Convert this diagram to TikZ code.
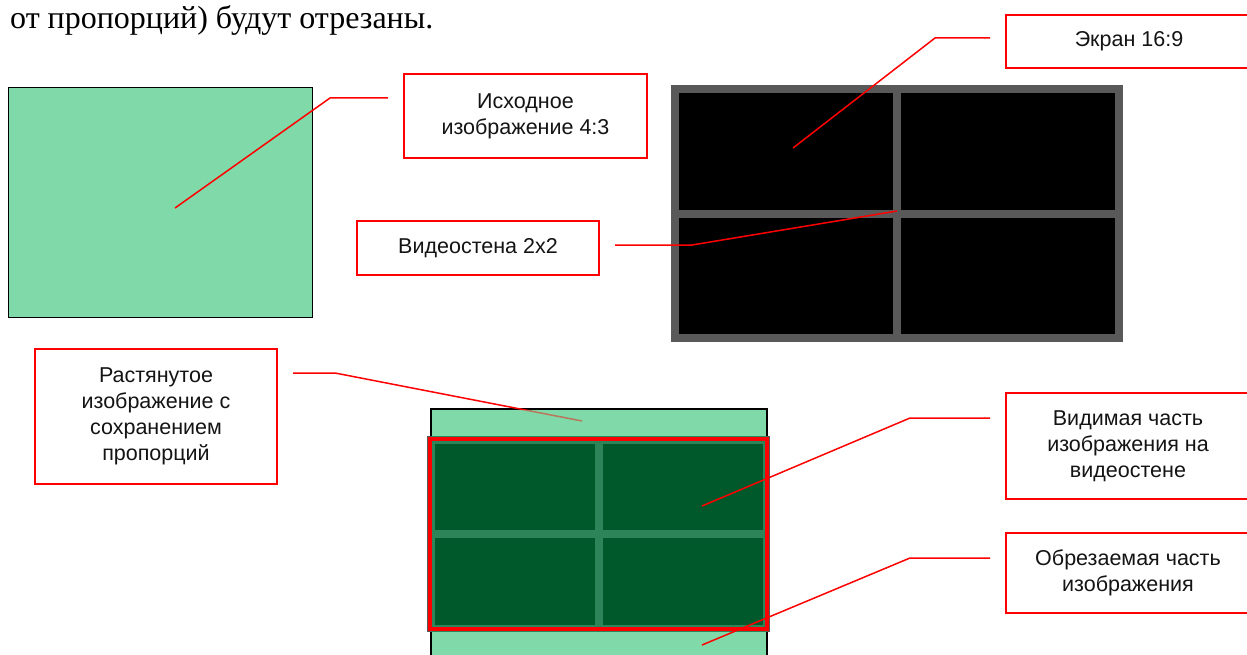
\documentclass[tikz,border=0pt]{standalone}
\usepackage{fontspec}
\setmainfont{Liberation Serif}
\newfontfamily\lsans{Liberation Sans}
\definecolor{lgreen}{RGB}{128,217,168}
\definecolor{dgreen}{RGB}{0,89,42}
\definecolor{mgreen}{RGB}{46,132,89}
\definecolor{wallgray}{RGB}{89,89,89}
\definecolor{lred}{RGB}{255,0,0}
\definecolor{txt}{RGB}{20,20,20}
\begin{document}
\begin{tikzpicture}[x=1pt,y=-1pt,
  lbl/.style={draw=lred,line width=2pt,fill=white,align=center,inner sep=0pt,
    font=\lsans\fontsize{21.5}{26}\selectfont,text=txt},
  leader/.style={draw=lred,line width=1.5pt},
  cell/.style={fill=black},
  gcell/.style={fill=dgreen}]
\useasboundingbox (0,0) rectangle (1247,655);
\fill[white] (0,0) rectangle (1247,655);

% top text
\node[anchor=base west,inner sep=0pt,font=\fontsize{32}{38}\selectfont] (toptext) at (10,28.5) {от пропорций) будут отрезаны.};

% source image 4:3
\path[fill=lgreen,draw=black,line width=1pt] (8,88) rectangle (312,317);
\coordinate (srcpt) at (175,208);

% video wall 16:9
\fill[wallgray] (671,85) rectangle (1123,342);
\fill[cell] (679,93) rectangle (893,210);
\fill[cell] (901,93) rectangle (1115,210);
\fill[cell] (679,218) rectangle (893,334);
\fill[cell] (901,218) rectangle (1115,334);
\coordinate (screenpt) at (793,148);
\coordinate (wallpt) at (897,211);

% stretched image
\path[fill=lgreen,draw=black,line width=1.2pt] (431,409) rectangle (767,670);
\coordinate (stretchpt) at (582,421);
\fill[wallgray] (427,436) rectangle (770,632);
\fill[mgreen] (431,436) rectangle (767,632);
\fill[gcell] (435,444) rectangle (595,530);
\fill[gcell] (603,444) rectangle (763,530);
\fill[gcell] (435,538) rectangle (595,625);
\fill[gcell] (603,538) rectangle (763,625);
\draw[lred,line width=3.2pt] (430,439) rectangle (767,629);
\coordinate (visiblept) at (702,506);
\coordinate (croppt) at (702,645);

% label boxes
\node[lbl,minimum width=243pt,minimum height=84pt] (lsrc) at (525.5,116) {Исходное\\изображение 4:3};
\node[lbl,minimum width=246pt,minimum height=53pt] (lscreen) at (1129,41.5) {Экран 16:9};
\node[lbl,minimum width=242pt,minimum height=54pt] (lwall) at (478,248) {Видеостена 2x2};
\node[lbl,minimum width=242pt,minimum height=135pt] (lstretch) at (156,416.5) {Растянутое\\изображение с\\сохранением\\пропорций};
\node[lbl,minimum width=244pt,minimum height=106pt] (lvisible) at (1128,446) {Видимая часть\\изображения на\\видеостене};
\node[lbl,minimum width=244pt,minimum height=80pt] (lcrop) at (1128,573) {Обрезаемая часть\\изображения};

% leaders
\coordinate (a1) at (388,98);  \coordinate (b1) at (330,98);
\draw[leader] (a1) -- (b1) -- (srcpt);
\coordinate (a2) at (990,38);  \coordinate (b2) at (935,38);
\draw[leader] (a2) -- (b2) -- (screenpt);
\coordinate (a3) at (615,245); \coordinate (b3) at (692,245);
\draw[leader] (a3) -- (b3) -- (wallpt);
\coordinate (a4) at (293,373); \coordinate (b4) at (335,373);
\draw[leader] (a4) -- (b4) -- (stretchpt);
\coordinate (a5) at (990,418); \coordinate (b5) at (910,418);
\draw[leader] (a5) -- (b5) -- (visiblept);
\coordinate (a6) at (990,558); \coordinate (b6) at (910,558);
\draw[leader] (a6) -- (b6) -- (croppt);
% green tint over leader inside stretched image top strip
\fill[lgreen,opacity=0.55] (432,410) rectangle (766,435);
\end{tikzpicture}
\end{document}
